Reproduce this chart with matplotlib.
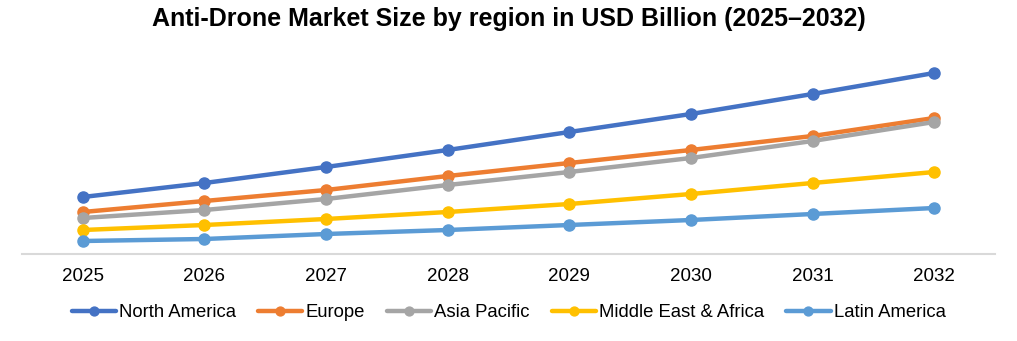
import matplotlib
matplotlib.use("Agg")
import matplotlib.pyplot as plt

years = ["2025", "2026", "2027", "2028", "2029", "2030", "2031", "2032"]
north_america = [2.85, 3.55, 4.35, 5.2, 6.1, 7.0, 8.0, 9.05]
europe = [2.1, 2.65, 3.2, 3.9, 4.55, 5.2, 5.9, 6.8]
asia_pacific = [1.8, 2.2, 2.75, 3.45, 4.1, 4.8, 5.65, 6.6]
middle_east_africa = [1.2, 1.45, 1.75, 2.1, 2.5, 3.0, 3.55, 4.1]
latin_america = [0.65, 0.75, 1.0, 1.2, 1.45, 1.7, 2.0, 2.3]

series = [
    ("North America", north_america, "#4472C4"),
    ("Europe", europe, "#ED7D31"),
    ("Asia Pacific", asia_pacific, "#A5A5A5"),
    ("Middle East & Africa", middle_east_africa, "#FFC000"),
    ("Latin America", latin_america, "#5B9BD5"),
]

plt.rcParams['font.family'] = ['Liberation Sans', 'DejaVu Sans']

fig = plt.figure(figsize=(10.17, 3.41), dpi=100)
ax = fig.add_axes([22/1017, 87/341, 973/1017, 200/341])

x = list(range(len(years)))
for name, vals, col in series:
    ax.plot(x, vals, color=col, lw=3.2, marker='o', markersize=8, label=name,
            solid_capstyle='round')

ax.set_xlim(-0.5, len(years) - 0.5)
ax.set_ylim(0, 10)
ax.set_xticks(x)
ax.set_xticklabels(years, fontsize=13.5)
ax.tick_params(axis='x', length=0, pad=10)
ax.set_yticks([])
for s in ['top', 'right', 'left']:
    ax.spines[s].set_visible(False)
ax.spines['bottom'].set_color('#D9D9D9')
ax.spines['bottom'].set_linewidth(1.5)

fig.text(0.5, 0.945, "Anti-Drone Market Size by region in USD Billion (2025\u20132032)",
         ha='center', va='center', fontsize=18, fontweight='bold')

fig.legend(loc='center', bbox_to_anchor=(0.5, 0.083), ncol=5, frameon=False,
           fontsize=13.3, handlelength=2.4, handletextpad=0.16, columnspacing=1.2,
           markerscale=0.8)

fig.savefig("out.png", dpi=100)
